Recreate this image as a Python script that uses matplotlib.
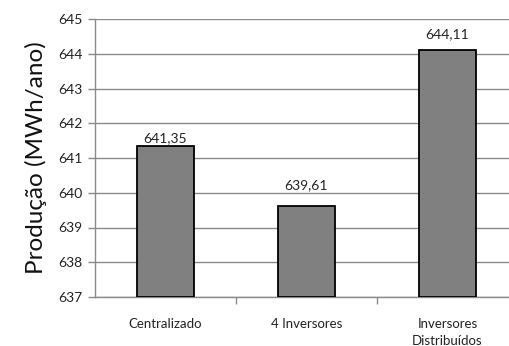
import matplotlib
matplotlib.use("Agg")
import matplotlib.pyplot as plt

categorias = ["Centralizado", "4 Inversores", "Inversores\nDistribuídos"]
producao = [641.35, 639.61, 644.11]
rotulos = ["641,35", "639,61", "644,11"]

plt.rcParams['font.family'] = ['Lato', 'DejaVu Sans']

W, H = 510, 346
fig = plt.figure(figsize=(W / 100, H / 100), dpi=100)
ax = fig.add_axes([95 / W, (H - 297) / H, 423 / W, (297 - 19) / H])

x = list(range(len(categorias)))
ax.bar(x, [v - 637 for v in producao], bottom=637, width=0.4,
       color="#808080", edgecolor="black", linewidth=1.3, zorder=3)

# offsets (pixels) of the value labels above each bar
desloc = [8, 21, 16]
for xi, v, r, d in zip(x, producao, rotulos, desloc):
    ax.annotate(r, (xi, v), xytext=(0, d * 0.72), textcoords="offset points",
                ha="center", va="center", fontsize=10, color="#222222")

ax.set_xlim(-0.5, 2.5)
ax.set_ylim(637, 645)
ax.set_yticks(range(637, 646))
ax.grid(axis="y", color="#8a8a8a", linewidth=1.0, zorder=0)
ax.set_axisbelow(True)

ax.set_xticks([0.5, 1.5], minor=False)
ax.set_xticklabels([])
ax.set_xticks(x, minor=True)
ax.set_xticklabels(categorias, minor=True, fontsize=9.5, color="#222222",
                   linespacing=1.5)
ax.tick_params(axis="x", which="minor", length=0, pad=15)
ax.tick_params(axis="x", which="major", length=5, color="#8a8a8a", width=1)
ax.tick_params(axis="y", length=5, color="#8a8a8a", width=1, labelsize=10,
               labelcolor="#222222", pad=4)

for s in ["top", "right"]:
    ax.spines[s].set_visible(False)
for s in ["left", "bottom"]:
    ax.spines[s].set_color("#8a8a8a")
    ax.spines[s].set_linewidth(1)

ax.set_ylabel("Produção (MWh/ano)", fontsize=17.5, color="#111111", labelpad=8)

fig.savefig("out.png", dpi=100)
